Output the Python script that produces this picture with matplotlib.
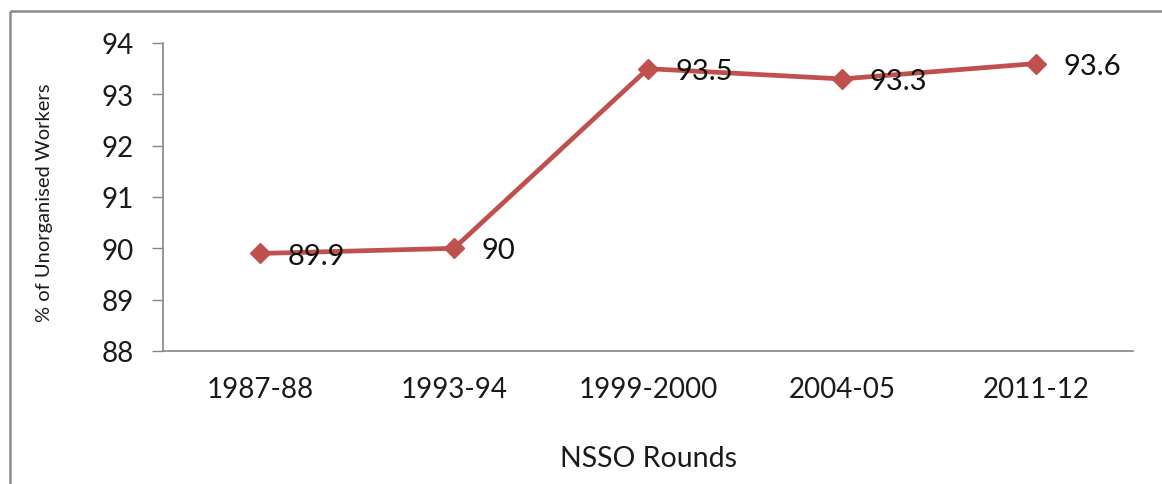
import matplotlib
matplotlib.use("Agg")
import matplotlib.pyplot as plt
from matplotlib.lines import Line2D

# NSSO survey rounds and share of unorganised workers (%)
rounds = ["1987-88", "1993-94", "1999-2000", "2004-05", "2011-12"]
unorganised_pct = [89.9, 90, 93.5, 93.3, 93.6]
y_ticks = [88, 89, 90, 91, 92, 93, 94]

W, H, DPI = 1162, 485, 100
plt.rcParams["font.family"] = ["Lato", "DejaVu Sans"]

fig = plt.figure(figsize=(W / DPI, H / DPI), dpi=DPI)
fig.patch.set_facecolor("white")

# chart-area frame (left and top edges)
frame_col = "#8a8a8a"
fig.add_artist(Line2D([10 / W, 10 / W], [0, 1 - 12 / H], transform=fig.transFigure,
                      color=frame_col, lw=1.8, solid_capstyle="butt"))
fig.add_artist(Line2D([10 / W, 1], [1 - 12 / H, 1 - 12 / H], transform=fig.transFigure,
                      color=frame_col, lw=1.8, solid_capstyle="butt"))

ax = fig.add_axes([163 / W, 1 - 352 / H, 970 / W, 308 / H])

line_col = "#C0504D"
x = list(range(len(rounds)))
ax.plot(x, unorganised_pct, color=line_col, lw=3.4, marker="D", markersize=10.5,
        markerfacecolor=line_col, markeredgecolor=line_col, markeredgewidth=1,
        solid_joinstyle="round", zorder=3)

for xi, v in zip(x, unorganised_pct):
    ax.annotate(f"{v:g}", (xi, v), xytext=(20, -1.5), textcoords="offset points",
                ha="left", va="center", fontsize=21, color="#111111", zorder=4)

ax.set_xlim(-0.5, len(rounds) - 0.5)
ax.set_ylim(88, 94)
ax.set_yticks(y_ticks)
ax.set_xticks(x)
ax.set_xticklabels(rounds)

spine_col = "#868686"
for s in ["top", "right"]:
    ax.spines[s].set_visible(False)
for s in ["left", "bottom"]:
    ax.spines[s].set_color(spine_col)
    ax.spines[s].set_linewidth(1.2)

ax.tick_params(axis="y", direction="out", length=8, width=1, color=spine_col,
               labelsize=20, labelcolor="#1a1a1a", pad=13)
ax.tick_params(axis="x", length=0, labelsize=20, labelcolor="#1a1a1a", pad=18)

ax.set_ylabel("% of Unorganised Workers", fontsize=14.5, color="#1a1a1a", va="center")
ax.yaxis.set_label_coords((45 - 163) / 970, (352 - 203) / 308)
ax.set_xlabel("NSSO Rounds", fontsize=20.5, color="#1a1a1a", va="center")
ax.xaxis.set_label_coords((648 - 163) / 970, (352 - 459) / 308)

fig.savefig("out.png", dpi=DPI)
